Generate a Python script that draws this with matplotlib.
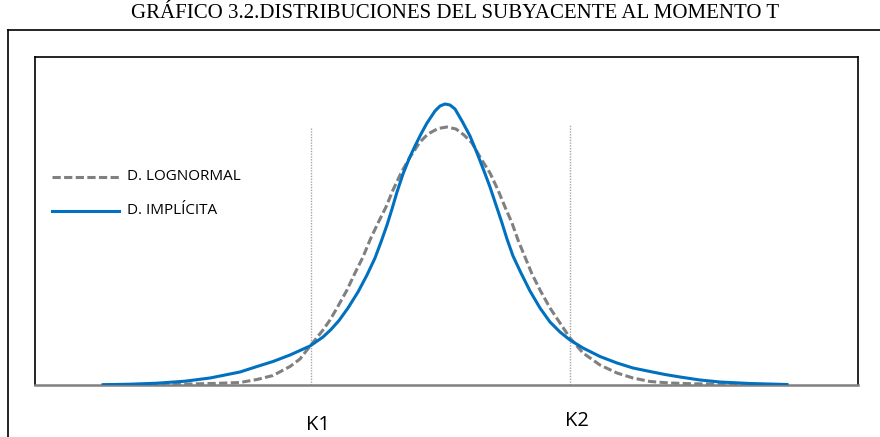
import matplotlib
matplotlib.use("Agg")
import matplotlib.pyplot as plt
from matplotlib.lines import Line2D

# Data (x position, density height)
x_implicit = [103, 130, 157, 185, 210, 240, 257, 273, 290, 310, 323, 331, 339, 348, 358, 367,
              375, 381, 387, 392, 397, 403, 409, 415, 421, 427, 435, 440, 445, 450, 455, 462,
              470, 477, 484, 490, 496, 502, 507, 513, 521, 530, 540, 550, 560, 570, 583, 600,
              617, 633, 650, 665, 680, 700, 720, 750, 787]
y_implicit = [0.3, 0.8, 1.8, 3.8, 7, 13, 18.5, 23.5, 30, 39, 48, 55.5, 64.5, 77, 93, 110,
              127, 143, 160, 176, 193, 211, 226, 239, 251, 262, 274, 279, 281, 280, 276, 264,
              249, 232, 214, 198, 180, 162, 146, 129, 112, 94, 77, 63, 53, 45, 37, 28.5,
              22, 17, 13.5, 10.5, 8, 5, 3, 1.5, 0.5]

x_lognormal = [103, 150, 190, 215, 240, 257, 273, 290, 300, 307, 315, 323, 330, 337, 347, 355,
               363, 370, 378, 386, 393, 401, 410, 420, 428, 438, 447, 456, 464, 472, 480, 490,
               498, 505, 512, 518, 525, 532, 540, 550, 560, 570, 583, 600, 617, 633, 650, 670,
               690, 710, 750, 787]
y_lognormal = [0, 0.3, 1, 1.6, 2.5, 5.5, 9.5, 18.5, 26, 35, 45, 55, 65, 77, 95, 112,
               128, 145, 162, 178, 195, 212, 228, 243, 251, 256.5, 258, 256, 250, 242, 228, 212,
               195, 178, 162, 145, 128, 111, 95, 77, 62, 47, 32, 20, 12, 7, 3.5, 2,
               1.3, 1, 0.3, 0]

strike_x = [311, 570]
strike_labels = ["K1", "K2"]
strike_top = [258, 261]
series_labels = ["D. LOGNORMAL", "D. IMPLÍCITA"]
title = "GRÁFICO 3.2.DISTRIBUCIONES DEL SUBYACENTE AL MOMENTO T"

GRAY = "#808080"
BLUE = "#0070C0"
DASH = (0, (2.7, 1.1))

W, H = 880, 437
fig = plt.figure(figsize=(W / 100, H / 100), dpi=100)

# outer frame (top and left lines, cut by figure edges)
fig.add_artist(Line2D([8 / W, 8 / W], [0, 1 - 30 / H], color="black", lw=1.2,
                      transform=fig.transFigure))
fig.add_artist(Line2D([8 / W, 1], [1 - 30 / H, 1 - 30 / H], color="black", lw=1.2,
                      transform=fig.transFigure))

fig.text(455 / W, 1 - 13 / H, title, ha="center", va="center",
         fontfamily="Liberation Serif", fontsize=15)

ax = fig.add_axes([35 / W, 1 - 385 / H, (858 - 35) / W, (385 - 57) / H])
ax.set_xlim(35, 858)
ax.set_ylim(0, 328)

for xs, top in zip(strike_x, strike_top):
    ax.plot([xs, xs], [0, top], color="#A6A6A6", lw=1.0, ls=(0, (1, 1)), zorder=1)

ax.plot(x_lognormal, y_lognormal, color=GRAY, lw=2.2, ls=DASH, zorder=2)
ax.plot(x_implicit, y_implicit, color=BLUE, lw=2.2, zorder=3,
        solid_joinstyle="round")

for xs, lab, dy in zip(strike_x, strike_labels, [40, 36]):
    ax.text(xs + 7, -dy, lab, ha="center", va="center", fontsize=14.5,
            fontfamily="Open Sans", clip_on=False)

ax.set_xticks([])
ax.set_yticks([])
for s in ["top", "left", "right"]:
    ax.spines[s].set_color("black")
    ax.spines[s].set_linewidth(1.2)
ax.spines["bottom"].set_color(GRAY)
ax.spines["bottom"].set_linewidth(1.8)

# legend drawn manually at its place in the picture
leg_y = [177, 211]
for lab, yy, col, ls in zip(series_labels, leg_y, [GRAY, BLUE], [DASH, "-"]):
    fig.add_artist(Line2D([52 / W, 119 / W], [1 - yy / H, 1 - yy / H], color=col,
                          lw=2.2, ls=ls, transform=fig.transFigure))
    fig.text(127 / W, 1 - yy / H, lab, ha="left", va="center",
             fontfamily="Open Sans", fontsize=11)

fig.savefig("out.png", dpi=100)
